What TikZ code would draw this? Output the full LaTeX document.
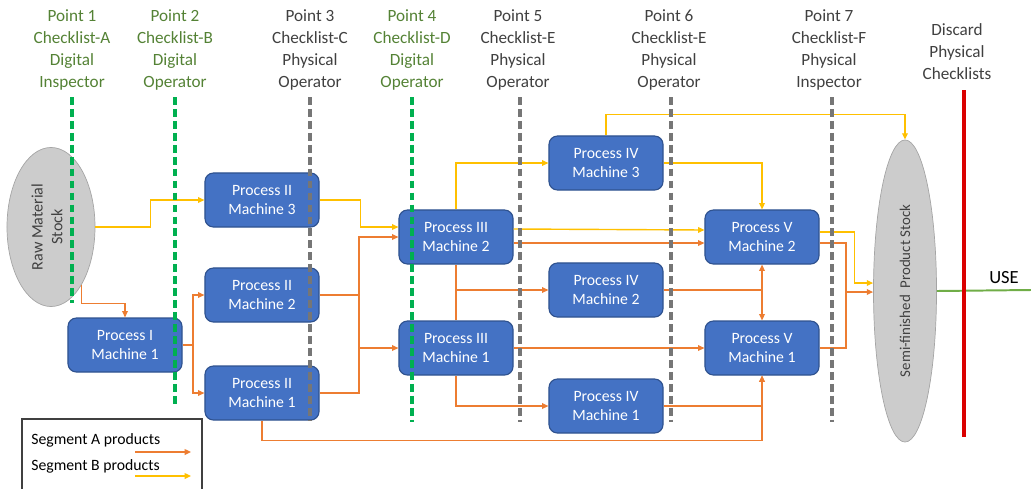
\documentclass[tikz,border=0pt]{standalone}
\usepackage{fontspec}
\setmainfont{Carlito}
\usetikzlibrary{arrows.meta,shapes.geometric,calc}
\definecolor{procfill}{RGB}{68,114,196}
\definecolor{procline}{RGB}{47,82,143}
\definecolor{segA}{RGB}{237,125,49}
\definecolor{segB}{RGB}{255,192,0}
\definecolor{digital}{RGB}{0,176,80}
\definecolor{physical}{RGB}{118,118,118}
\definecolor{discardred}{RGB}{218,0,0}
\definecolor{usegreen}{RGB}{112,173,71}
\definecolor{hdrgreen}{RGB}{84,130,53}
\definecolor{hdrgray}{RGB}{64,64,64}
\definecolor{stockfill}{RGB}{204,204,204}
\definecolor{stockline}{RGB}{165,165,165}
\tikzset{
  proc/.style={draw=procline, fill=procfill, line width=0.8pt, rounded corners=6pt,
    minimum width=2.85cm, minimum height=1.35cm, inner sep=0pt, text=white,
    align=center, font=\fontsize{11.2}{13.5}\selectfont},
  stock/.style={ellipse, draw=stockline, fill=stockfill, line width=0.5pt, inner sep=0pt},
  stocktext/.style={rotate=90, align=center, text=hdrgray},
  hdrG/.style={align=center, text=hdrgreen, font=\fontsize{12.2}{15.6}\selectfont},
  hdrP/.style={align=center, text=hdrgray, font=\fontsize{12.2}{15.6}\selectfont},
  tipA/.style={-{Triangle[length=4.5pt,width=4pt]}},
  flowA/.style={draw=segA, line width=1pt},
  flowB/.style={draw=segB, line width=1pt},
  chkD/.style={draw=digital, line width=2.2pt, dash pattern=on 5.5pt off 3pt},
  chkP/.style={draw=physical, line width=2.2pt, dash pattern=on 5.5pt off 3pt},
}
\begin{document}
\begin{tikzpicture}[x=0.025cm,y=-0.025cm]
\clip (0,0) rectangle (1031,488);

% stocks
\node[stock, minimum width=2.2cm, minimum height=3.975cm] (raw) at (51,227) {};
\node[stocktext, font=\fontsize{11.4}{14}\selectfont] (rawtxt) at (47,227) {Raw Material\\Stock};
\node[stock, minimum width=1.575cm, minimum height=7.55cm] (semi) at (905,291) {};
\node[stocktext, font=\fontsize{10.6}{13}\selectfont] (semitxt) at (semi.center) {Semi-finished~ Product Stock};

% process machines
\node[proc] (p1)   at (125,345) {Process I\\Machine 1};
\node[proc] (p2m3) at (262,200) {Process II\\Machine 3};
\node[proc] (p2m2) at (262,295) {Process II\\Machine 2};
\node[proc] (p2m1) at (262,393) {Process II\\Machine 1};
\node[proc] (p3m2) at (456,237) {Process III\\Machine 2};
\node[proc] (p3m1) at (456,348) {Process III\\Machine 1};
\node[proc] (p4m3) at (606,163) {Process IV\\Machine 3};
\node[proc] (p4m2) at (606,290) {Process IV\\Machine 2};
\node[proc] (p4m1) at (606,406) {Process IV\\Machine 1};
\node[proc] (p5m2) at (762,237) {Process V\\Machine 2};
\node[proc] (p5m1) at (762,348) {Process V\\Machine 1};

% junctions
\coordinate (j1) at (193,345);
\coordinate (j2) at (359,237);
\coordinate (j5) at (762,290);
\coordinate (j7) at (846,292);

% segment B flow
\draw[flowB,tipA] (raw.east) -- ++(55,0) |- (p2m3.west);
\draw[flowB,tipA] (p2m3.east) -- ++(41,0) |- ($(p3m2.west)+(0,-10)$);
\draw[flowB,tipA] (p3m2.north) |- (p4m3.west);
\draw[flowB,tipA] ($(p3m2.east)+(0,-8)$) -- ($(p5m2.west)+(0,-7)$);
\draw[flowB,tipA] (p4m3.north) -- ++(0,-21) -| (semi.north);
\draw[flowB,tipA] (p4m3.east) -| (p5m2.north);
\draw[flowB,tipA] ($(p5m2.east)+(0,-5)$) -- ++(35,0) |- ($(semi.west)+(0,-8)$);

% segment A flow
\draw[flowA,tipA] (raw.-62) -- ++(0,19) -| (p1.north);
\draw[flowA] (p1.east) -- (j1);
\draw[flowA,tipA] (j1) |- (p2m2.west);
\draw[flowA,tipA] (j1) |- (p2m1.west);
\draw[flowA] (p2m2.east) -- (p2m2.east -| j2);
\draw[flowA,tipA] (p2m1.east) -| (j2) -- (p3m2.west);
\draw[flowA,tipA] (j2 |- p3m1.west) -- (p3m1.west);
\draw[flowA] (p3m2.south) -- (p3m1.north);
\draw[flowA,tipA] (p3m2.south |- p4m2.west) -- (p4m2.west);
\draw[flowA,tipA] (p3m1.south) |- (p4m1.west);
\draw[flowA,tipA] ($(p3m2.east)+(0,6)$) -- ($(p5m2.west)+(0,6)$);
\draw[flowA,tipA] (p3m1.east) -- (p5m1.west);
\draw[flowA] (p4m2.east) -- (j5);
\draw[flowA,tipA] (j5) -- (p5m2.south);
\draw[flowA,tipA] (j5) -- (p5m1.north);
\draw[flowA,tipA] (p4m1.east) -| (p5m1.south);
\draw[flowA,tipA] (p2m1.south) -- ++(0,20) -| (p5m1.south);
\draw[flowA] ($(p5m2.east)+(0,6)$) -| (j7);
\draw[flowA] (p5m1.east) -| (j7);
\draw[flowA,tipA] (j7) -- ($(semi.west)+(0,1)$);

% use
\coordinate (useend) at (1031,290);
\draw[draw=usegreen, line width=1.4pt] (semi.east) -- (useend);
\node[text=black, font=\fontsize{13.2}{15}\selectfont] (usetxt) at (1004,278) {USE};

% checkpoint headers
\node[hdrG] (pt1) at (72,50)  {Point 1\\Checklist-A\\Digital\\Inspector};
\node[hdrG] (pt2) at (175,50) {Point 2\\Checklist-B\\Digital\\Operator};
\node[hdrP] (pt3) at (310,50) {Point 3\\Checklist-C\\Physical\\Operator};
\node[hdrG] (pt4) at (412,50) {Point 4\\Checklist-D\\Digital\\Operator};
\node[hdrP] (pt5) at (518,50) {Point 5\\Checklist-E\\Physical\\Operator};
\node[hdrP] (pt6) at (669,50) {Point 6\\Checklist-E\\Physical\\Operator};
\node[hdrP] (pt7) at (829,50) {Point 7\\Checklist-F\\Physical\\Inspector};
\node[hdrP] (dis) at (957,52) {Discard\\Physical\\Checklists};

% checkpoint lines
\draw[chkD] (72,97) -- (72,303);
\draw[chkD] (175,97) -- (175,405);
\draw[chkP] (310,97) -- (310,420);
\draw[chkD] (412,97) -- (412,422);
\draw[chkP] (520,97) -- (520,422);
\draw[chkP] (671,97) -- (671,422);
\draw[chkP] (832,97) -- (832,422);
\draw[draw=discardred, line width=2.4pt] (964,90) -- (964,437);

% legend
\draw[draw=black!75, line width=0.8pt, fill=white] (22,419) rectangle (202,500);
\node[anchor=west, font=\fontsize{11.2}{13}\selectfont, inner sep=0pt] (lega) at (31,440) {Segment A products};
\node[anchor=west, font=\fontsize{11.2}{13}\selectfont, inner sep=0pt] (legb) at (31,466) {Segment B products};
\coordinate (la0) at (135,452);
\coordinate (la1) at (191,452);
\coordinate (lb0) at (135,476);
\coordinate (lb1) at (191,476);
\draw[flowA,tipA] (la0) -- (la1);
\draw[flowB,tipA] (lb0) -- (lb1);
\end{tikzpicture}
\end{document}
